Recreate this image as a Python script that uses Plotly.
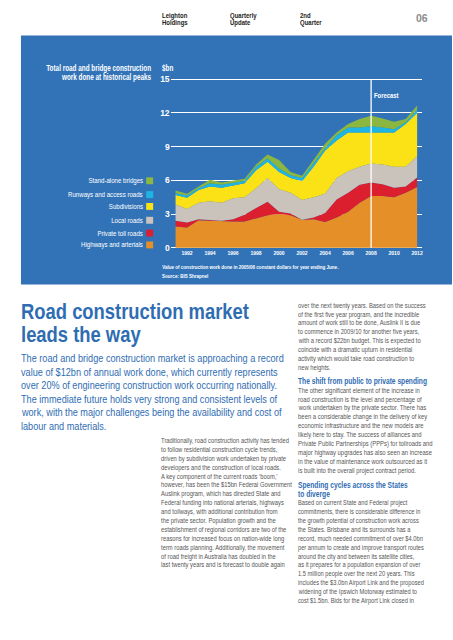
import json
import plotly.graph_objects as go

W, H = 453, 640

# ---------------- data ----------------
years = list(range(1991, 2013))
series_names = ["Highways and arterials", "Private toll roads", "Local roads",
                "Subdivisions", "Runways and access roads", "Stand-alone bridges"]
# cumulative tops ($bn), converted to per-series values below
top_highways = [1.9, 1.8, 2.45, 2.4, 2.35, 2.35, 2.35, 2.6, 2.9, 3.0, 2.9, 2.5, 2.55, 2.3, 2.7, 3.2, 4.0, 4.6, 4.6, 4.5, 4.9, 5.4]
top_toll     = [2.4, 2.25, 2.55, 2.5, 2.4, 2.55, 2.95, 3.55, 4.1, 3.2, 3.05, 2.5, 2.7, 3.1, 4.3, 4.9, 5.6, 5.8, 5.65, 5.35, 5.45, 6.25]
top_local    = [3.85, 3.45, 4.0, 4.15, 4.0, 4.4, 4.5, 5.3, 6.2, 5.2, 4.9, 4.25, 4.5, 4.8, 6.2, 6.8, 7.2, 7.5, 7.4, 7.2, 7.2, 8.15]
top_subdiv   = [4.7, 4.45, 5.15, 5.45, 5.35, 5.55, 5.75, 6.9, 7.65, 6.75, 6.2, 5.95, 7.2, 8.65, 9.55, 10.25, 10.25, 10.25, 10.25, 10.25, 11.0, 12.0]
top_runways  = [4.85, 4.65, 5.3, 5.75, 5.6, 5.75, 5.95, 7.2, 7.95, 7.05, 6.45, 6.2, 7.5, 8.85, 10.0, 10.7, 10.7, 10.8, 10.7, 10.55, 11.15, 12.3]
top_bridges  = [5.1, 4.8, 5.45, 6.05, 5.8, 5.95, 6.15, 7.4, 8.3, 7.8, 6.75, 6.4, 7.8, 9.25, 10.25, 11.0, 11.45, 11.75, 11.5, 11.2, 11.45, 12.65]
y_ticks = [0, 3, 6, 9, 12, 15]
x_ticks = list(range(1992, 2013, 2))
forecast_year = 2008

colors = ["#e48f27", "#dc1f2e", "#c9c3bc", "#fbe216", "#1eb4e3", "#8bb63f"]
BLUE_BG = "#3273b8"
TITLE_BLUE = "#2f6db3"
BODY = "#555555"

tops = [top_highways, top_toll, top_local, top_subdiv, top_runways, top_bridges]
values = []
prev = [0] * len(years)
for t in tops:
    values.append([round(a - b, 3) for a, b in zip(t, prev)])
    prev = t

header = [("Leighton", "Holdings", 160), ("Quarterly", "Update", 229), ("2nd", "Quarter", 299)]

title_lines = ["Road construction market", "leads the way"]
intro_lines = [
    "The road and bridge construction market is approaching a record",
    "value of $12bn of annual work done, which currently represents",
    "over 20% of engineering construction work occurring nationally.",
    "The immediate future holds very strong and consistent levels of",
    "work, with the major challenges being the availability and cost of",
    "labour and materials.",
]
col1 = [
    "Traditionally, road construction activity has tended",
    "to follow residential construction cycle trends,",
    "driven by subdivision work undertaken by private",
    "developers and the construction of local roads.",
    "A key component of the current roads \u2018boom,\u2019",
    "however, has been the $15bn Federal Government",
    "Auslink program, which has directed State and",
    "Federal funding into national arterials, highways",
    "and tollways, with additional contribution from",
    "the private sector. Population growth and the",
    "establishment of regional corridors are two of the",
    "reasons for increased focus on nation-wide long",
    "term roads planning. Additionally, the movement",
    "of road freight in Australia has doubled in the",
    "last twenty years and is forecast to double again",
]
col2a = [
    "over the next twenty years. Based on the success",
    "of the first five year program, and the incredible",
    "amount of work still to be done, Auslink II is due",
    "to commence in 2009/10 for another five years,",
    "with a record $22bn budget. This is expected to",
    "coincide with a dramatic upturn in residential",
    "activity which would take road construction to",
    "new heights.",
]
head2 = ["The shift from public to private spending"]
col2b = [
    "The other significant element of the increase in",
    "road construction is the level and percentage of",
    "work undertaken by the private sector. There has",
    "been a considerable change in the delivery of key",
    "economic infrastructure and the new models are",
    "likely here to stay. The success of alliances and",
    "Private Public Partnerships (PPPs) for tollroads and",
    "major highway upgrades has also seen an increase",
    "in the value of maintenance work outsourced as it",
    "is built into the overall project contract period.",
]
head3 = ["Spending cycles across the States", "to diverge"]
col2c = [
    "Based on current State and Federal project",
    "commitments, there is considerable difference in",
    "the growth potential of construction work across",
    "the States. Brisbane and its surrounds has a",
    "record, much needed commitment of over $4.0bn",
    "per annum to create and improve transport routes",
    "around the city and between its satellite cities,",
    "as it prepares for a population expansion of over",
    "1.5 million people over the next 20 years. This",
    "includes the $3.0bn Airport Link and the proposed",
    "widening of the Ipswich Motorway estimated to",
    "cost $1.5bn. Bids for the Airport Link closed in",
]

# ---------------- helpers ----------------
def px(x):
    return x / W

def py(y):
    return 1 - y / H

FONT = "Liberation Sans, Arial, sans-serif"

annotations = []
squeeze = []          # per annotation: condensing group (or None)
groups = {}           # group -> [reference annotation index, target width px]

def note(text, x, y, xanchor="left", size=8, color="white", bold=False, grp=None,
         target=None, xref="paper"):
    annotations.append(dict(xref=xref, yref="paper", x=x if xref != "paper" else px(x),
                            y=py(y), xanchor=xanchor, yanchor="middle",
                            text=("<b>%s</b>" % text) if bold else text, showarrow=False,
                            font=dict(family=FONT, size=size, color=color)))
    squeeze.append(grp)
    if grp is not None and target is not None:
        groups[grp] = [len(annotations) - 1, target]

fig = go.Figure()
for name, vals, col in zip(series_names, values, colors):
    fig.add_trace(go.Scatter(
        x=years, y=vals, name=name, stackgroup="one", mode="lines",
        line=dict(width=0, color=col), fillcolor=col, hoverinfo="x+y+name"))

shapes = []
# blue panel
shapes.append(dict(type="rect", xref="paper", yref="paper", x0=px(21), x1=1.0,
                   y0=py(284), y1=py(32), fillcolor=BLUE_BG, line=dict(width=0), layer="below"))
# forecast line
shapes.append(dict(type="line", xref="x", yref="y", x0=forecast_year, x1=forecast_year,
                   y0=0, y1=15, line=dict(color="white", width=1.3), layer="above"))
note("Forecast", forecast_year, 93, size=7.5, bold=True, grp="fc", target=25, xref="x")
annotations[-1]["xshift"] = 1

# header
for i, (a, b, x) in enumerate(header):
    note(a, x, 12, size=6.5, color="#222222", bold=True, grp="hdr",
         target=27 if a == "Quarterly" else None)
    note(b, x, 19, size=6.5, color="#222222", bold=True, grp="hdr")
note("06", 431, 14.5, xanchor="right", size=10.5, color="#8c8c8c", bold=True)

# chart titles
note("Total road and bridge construction", 153, 65, xanchor="right", size=8.5, bold=True,
     grp="ct", target=105)
note("work done at historical peaks", 153, 74, xanchor="right", size=8.5, bold=True, grp="ct")
note("$bn", 160, 65, size=8.5, bold=True, grp="ct")

# legend
leg_y = [244, 232, 219, 205, 193, 179]
for name, col, y in zip(series_names, colors, leg_y):
    note(name, 145, y, xanchor="right", size=7.5, grp="leg",
         target=75 if name.startswith("Runways") else None)
    shapes.append(dict(type="rect", xref="paper", yref="paper", x0=px(146.5), x1=px(153.5),
                       y0=py(y + 3.5), y1=py(y - 3.5), fillcolor=col, line=dict(width=0)))

# caption
note("Value of construction work done in 2005/06 constant dollars for year ending June.",
     160, 266, size=5.5, bold=True, grp="cap", target=177)
note("Source: BIS Shrapnel", 160, 275, size=5.5, bold=True, grp="cap")

# title & intro
for i, t in enumerate(title_lines):
    note(t, 19.5, 312 + i * 23, size=21.5, color=TITLE_BLUE, bold=True, grp="title",
         target=228 if i == 0 else None)
for i, t in enumerate(intro_lines):
    note(t, 19.5, 359 + i * 13.7, size=10.3, color=TITLE_BLUE, grp="intro",
         target=263 if i == 0 else None)

def body(lines, x, y0, grp, target, step=9.0, color=BODY, bold=False, size=7.6):
    for i, t in enumerate(lines):
        note(t, x, y0 + i * step, size=size, color=color, bold=bold, grp=grp,
             target=target if i == 0 else None)

body(col1, 159, 442, "c1", 128)
body(col2a, 297, 305, "c2a", 128)
body(head2, 297, 382, "h2", 129, color=TITLE_BLUE, bold=True, size=8.3)
body(col2b, 297, 391, "c2b", 122)
body(head3, 297, 487.5, "h3", 110, color=TITLE_BLUE, bold=True, size=8.3)
annotations[-1]["y"] = py(496.5)
body(col2c, 297, 505, "c2c", 110)

fig.update_layout(
    width=W, height=H, margin=dict(l=0, r=0, t=0, b=0),
    paper_bgcolor="white", plot_bgcolor="rgba(0,0,0,0)",
    showlegend=False,
    xaxis=dict(domain=[px(171), px(423)], range=[1990.57, 2012.43], tickvals=x_ticks,
               ticktext=["<b>%d</b>" % v for v in x_ticks], showgrid=False, zeroline=False,
               showline=False, ticks="", tickfont=dict(family=FONT, size=5, color="white")),
    yaxis=dict(domain=[py(248.1), py(74.9)], range=[-0.1, 15.1], tickvals=y_ticks,
               ticktext=["<b>%d</b>" % v for v in y_ticks], showgrid=True, gridcolor="white",
               gridwidth=1, zeroline=False, showline=False, ticks="",
               tickfont=dict(family=FONT, size=8.5, color="white")),
    shapes=shapes, annotations=annotations,
)

# Condense annotation text horizontally (the original uses a condensed typeface)
post = """
(function(){
var gd = document.getElementById('{plot_id}');
document.body.style.margin = '0';
document.body.style.overflow = 'hidden';
var SQ = __SQ__; var GR = __GR__;
function run(){
  try {
    var map = {};
    gd.querySelectorAll('g.annotation').forEach(function(g){
      map[g.getAttribute('data-index')] = g.querySelector('text.annotation-text');
    });
    var scale = {};
    Object.keys(GR).forEach(function(k){
      var t = map[String(GR[k][0])]; if (!t) return;
      var w = t.getBBox().width; if (w > 0) scale[k] = GR[k][1] / w;
    });
    SQ.forEach(function(grp, i){
      if (!grp || !scale[grp]) return;
      var t = map[String(i)]; if (!t) return;
      var bb = t.getBBox();
      var a = gd.layout.annotations[i].xanchor;
      var ox = a === 'right' ? bb.x + bb.width : (a === 'left' ? bb.x : bb.x + bb.width / 2);
      var s = scale[grp];
      t.setAttribute('transform', 'translate(' + ox + ',0) scale(' + s + ',1) translate(' + (-ox) + ',0)');
    });
  } catch (e) {}
}
run();
gd.on('plotly_afterplot', run);
})();
""".replace("__SQ__", json.dumps(squeeze)).replace("__GR__", json.dumps(groups))

fig.write_html("out.html", post_script=post, config={"displayModeBar": False})
